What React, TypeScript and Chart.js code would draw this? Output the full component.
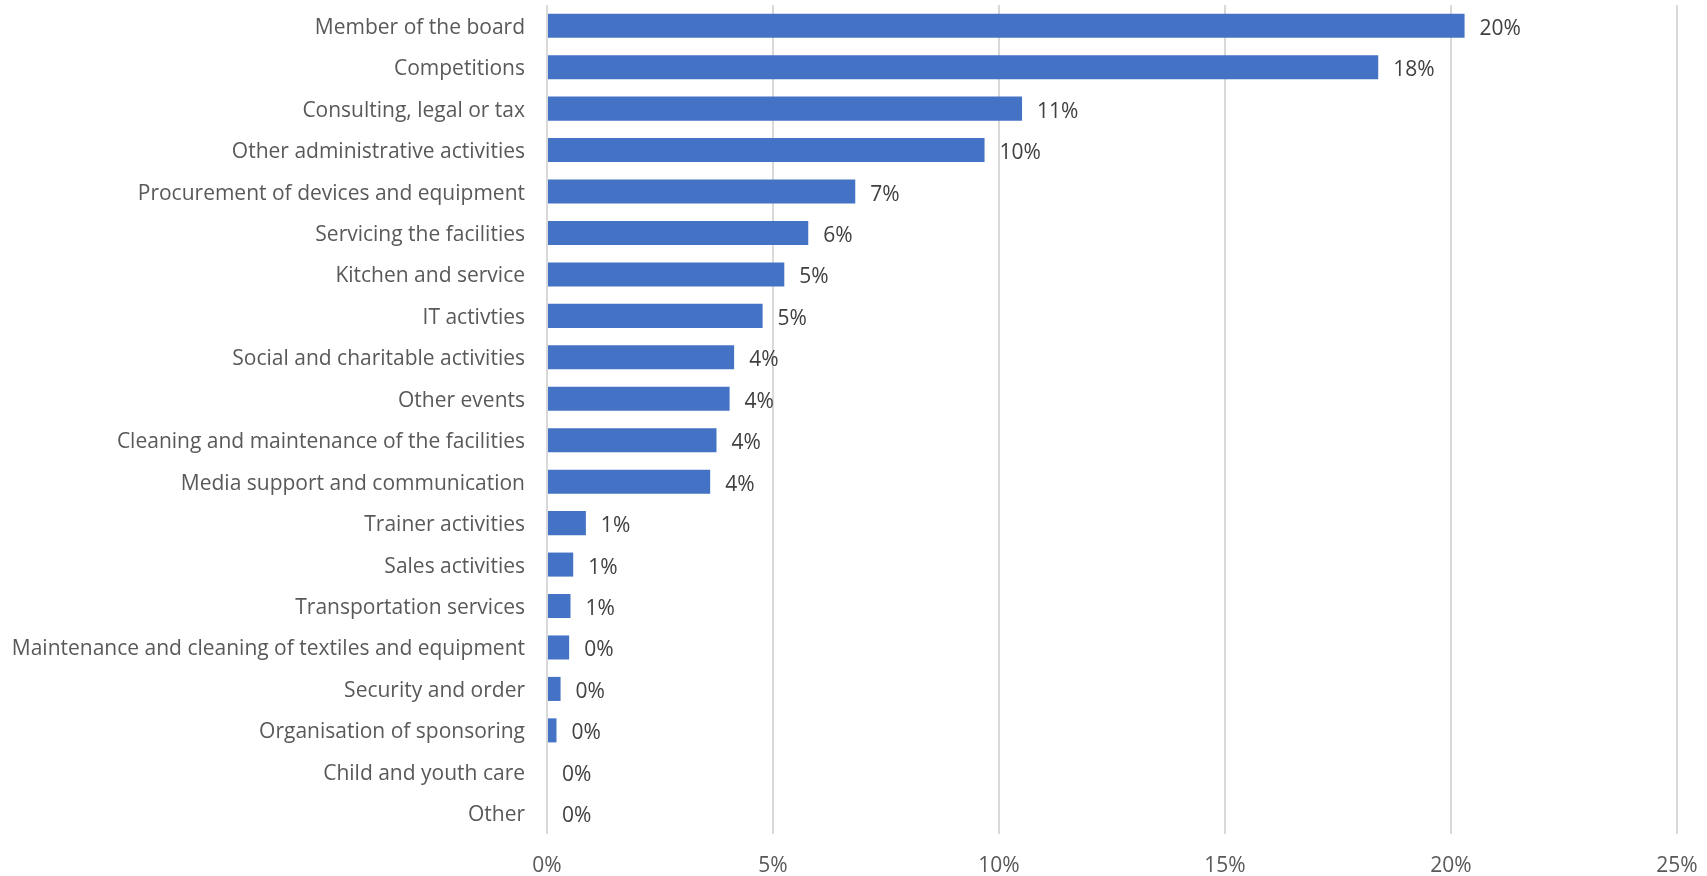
import React, { useEffect, useRef } from "react";
import { Chart, registerables } from "chart.js";

Chart.register(...registerables);

const categories: string[] = [
  "Member of the board",
  "Competitions",
  "Consulting, legal or tax",
  "Other administrative activities",
  "Procurement of devices and equipment",
  "Servicing the facilities",
  "Kitchen and service",
  "IT activties",
  "Social and charitable activities",
  "Other events",
  "Cleaning and maintenance of the facilities",
  "Media support and communication",
  "Trainer activities",
  "Sales activities",
  "Transportation services",
  "Maintenance and cleaning of textiles and equipment",
  "Security and order",
  "Organisation of sponsoring",
  "Child and youth care",
  "Other",
];

const shares: number[] = [
  20.3, 18.39, 10.51, 9.68, 6.82, 5.78, 5.25, 4.77, 4.14, 4.04, 3.75, 3.61,
  0.86, 0.58, 0.52, 0.49, 0.3, 0.21, 0, 0,
];

const xTicks: number[] = [0, 5, 10, 15, 20, 25];

const FONT = "'Open Sans', sans-serif";

const dataLabelPlugin = {
  id: "barValueLabels",
  afterDatasetsDraw(chart: any) {
    const ctx = chart.ctx;
    const meta = chart.getDatasetMeta(0);
    ctx.save();
    ctx.font = `21px ${FONT}`;
    ctx.fillStyle = "#404040";
    ctx.textAlign = "left";
    ctx.textBaseline = "middle";
    meta.data.forEach((bar: any, i: number) => {
      const v = chart.data.datasets[0].data[i] as number;
      ctx.fillText(`${Math.round(v)}%`, bar.x + 15, bar.y + 3);
    });
    ctx.restore();
  },
};

export default function App() {
  const ref = useRef<HTMLCanvasElement | null>(null);

  useEffect(() => {
    if (!ref.current) return;
    const chart = new Chart(ref.current, {
      type: "bar",
      data: {
        labels: categories,
        datasets: [
          {
            data: shares,
            backgroundColor: "#4472c4",
            borderWidth: 0,
            categoryPercentage: 1,
            barPercentage: 0.58,
          },
        ],
      },
      options: {
        indexAxis: "y",
        animation: false,
        responsive: false,
        maintainAspectRatio: false,
        layout: { padding: { left: 0, right: 30, top: 5, bottom: 0 } },
        plugins: {
          legend: { display: false },
          tooltip: { enabled: false },
        },
        scales: {
          x: {
            min: 0,
            max: 25,
            afterBuildTicks: (scale: any) => {
              scale.ticks = xTicks.map((v) => ({ value: v }));
            },
            afterFit: (scale: any) => {
              scale.height = 42;
              scale.paddingLeft = 0;
              scale.paddingRight = 0;
            },
            grid: {
              display: true,
              color: "#d9d9d9",
              lineWidth: 2,
              drawTicks: false,
            },
            border: { display: false },
            ticks: {
              padding: 19,
              color: "#595959",
              font: { family: FONT, size: 21 },
              callback: (v: any) => `${v}%`,
            },
          },
          y: {
            afterFit: (scale: any) => {
              scale.width = 547;
              scale.paddingTop = 0;
              scale.paddingBottom = 0;
            },
            grid: { display: false, drawTicks: false },
            border: { display: false },
            ticks: {
              padding: 22,
              labelOffset: 2,
              color: "#595959",
              font: { family: FONT, size: 21 },
              autoSkip: false,
            },
          },
        },
      },
      plugins: [dataLabelPlugin],
    });
    return () => chart.destroy();
  }, []);

  return (
    <div style={{ position: "fixed", left: 0, top: 0, width: 1707, height: 876, background: "#fff" }}>
      <canvas ref={ref} width={1707} height={876} />
    </div>
  );
}
